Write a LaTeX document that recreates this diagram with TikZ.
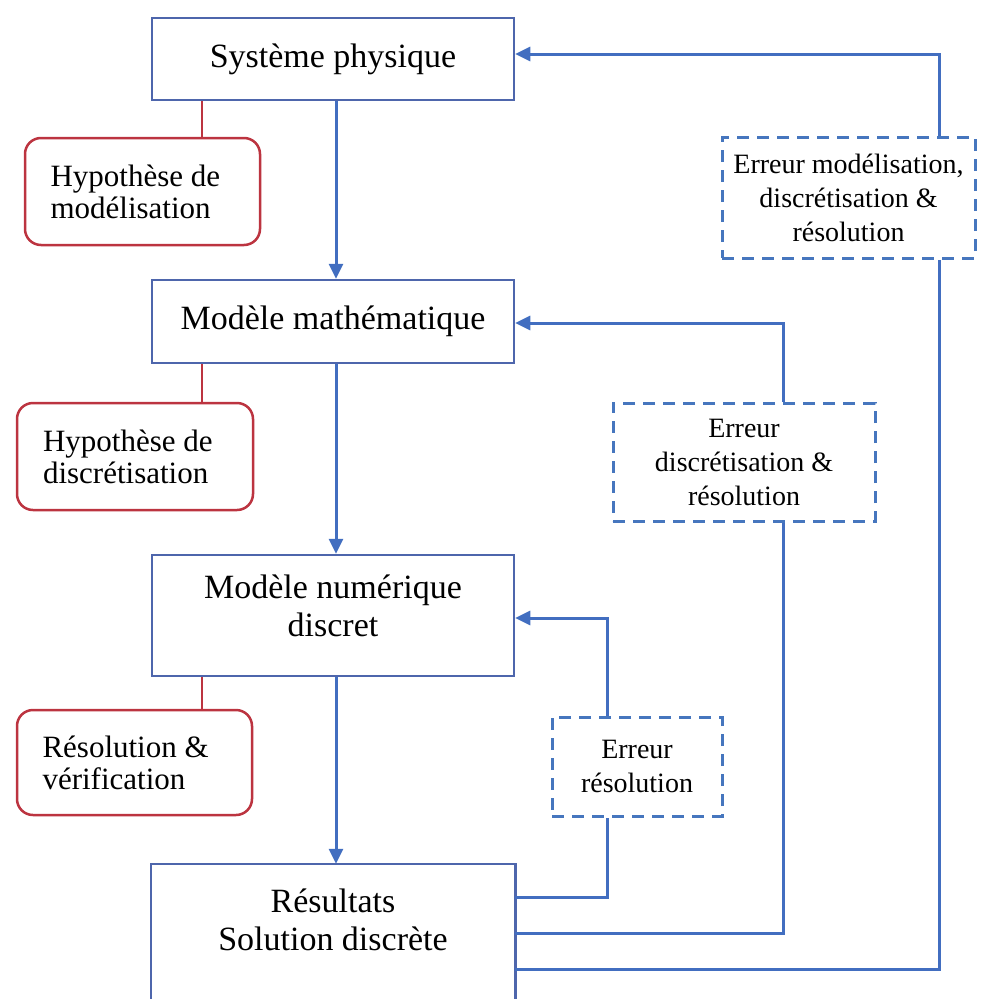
\documentclass[tikz,border=0pt]{standalone}
\usepackage{fontspec}
\setmainfont{Liberation Serif}
\usetikzlibrary{arrows.meta}
\definecolor{boxblue}{RGB}{78,102,172}
\definecolor{lineblue}{RGB}{66,110,192}
\definecolor{dashblue}{RGB}{70,118,190}
\definecolor{redc}{RGB}{188,52,64}
\tikzset{
  mainbox/.style={draw=boxblue, line width=2.5pt, fill=white, minimum width=362pt, align=center, inner sep=0pt, font=\fontsize{34}{38}\selectfont},
  hypbox/.style={draw=redc, line width=2.5pt, fill=white, rounded corners=16pt, align=flush left, inner sep=0pt, text width=184pt, font=\fontsize{31}{32}\selectfont},
  errbox/.style={draw=dashblue, line width=3pt, dash pattern=on 12pt off 8pt, fill=white, align=center, inner sep=0pt, font=\fontsize{28}{34}\selectfont},
  flow/.style={draw=lineblue, line width=3pt, -{Triangle[length=15pt,width=14pt]}},
  fline/.style={draw=lineblue, line width=3pt},
  redline/.style={draw=redc, line width=2.5pt},
}
\begin{document}
\begin{tikzpicture}[x=1pt,y=-1pt]
\useasboundingbox (0,0) rectangle (991,999);
\clip (0,0) rectangle (991,999);
% main boxes
\node[mainbox, minimum height=82pt] (sys) at (333,59) {Système physique};
\node[mainbox, minimum height=83pt] (mm) at (333,321.5) {Modèle mathématique};
\node[mainbox, minimum height=121pt] (mn) at (333,615.5) {Modèle numérique\\discret\rule[-20pt]{0pt}{20pt}};
\node[mainbox, draw=none, fill=none, minimum height=110pt] (res) at (333,920) {Résultats\\Solution discrète};
\draw[draw=boxblue, line width=2.5pt] ([yshift=-80pt]res.south west) -- (res.north west) -- (res.north east) -- ([yshift=-80pt]res.south east);
% hypothesis boxes
\node[hypbox, minimum width=235pt, minimum height=107pt] (h1) at (142.5,191.5) {Hypothèse de\\modélisation};
\node[hypbox, minimum width=236pt, minimum height=107pt] (h2) at (135,456.5) {Hypothèse de\\discrétisation};
\node[hypbox, minimum width=235pt, minimum height=105pt] (h3) at (134.5,762.5) {Résolution \&\\vérification};
% error boxes
\node[errbox, minimum width=253pt, minimum height=121pt] (e1) at (848.5,197.5) {Erreur modélisation,\\discrétisation \&\\résolution};
\node[errbox, minimum width=262pt, minimum height=118pt] (e2) at (744,462) {Erreur\\discrétisation \&\\résolution};
\node[errbox, minimum width=170pt, minimum height=99pt] (e3) at (637,766.5) {Erreur\\résolution};
% helper coordinates
\coordinate (rx) at (202,0);
\coordinate (mx) at (336,0);
\coordinate (c1) at (939,54);
\coordinate (c2) at (783,323);
\coordinate (c3) at (607,618);
\coordinate (b1) at (939,969);
\coordinate (b2) at (783,933);
\coordinate (b3) at (607,897);
% red connectors
\draw[redline] (sys.south -| rx) -- (h1.north -| rx);
\draw[redline] (mm.south -| rx) -- (h2.north -| rx);
\draw[redline] (mn.south -| rx) -- (h3.north -| rx);
% main flow
\draw[flow] (sys.south -| mx) -- (mm.north -| mx);
\draw[flow] (mm.south -| mx) -- (mn.north -| mx);
\draw[flow] (mn.south -| mx) -- (res.north -| mx);
% feedback loops
\draw[fline] (b1 -| res.east) -- (b1) -- (b1 |- e1.south);
\draw[flow] (c1 |- e1.north) -- (c1) -- (c1 -| sys.east);
\draw[fline] (b2 -| res.east) -- (b2) -- (b2 |- e2.south);
\draw[flow] (c2 |- e2.north) -- (c2) -- (c2 -| mm.east);
\draw[fline] (b3 -| res.east) -- (b3) -- (b3 |- e3.south);
\draw[flow] (c3 |- e3.north) -- (c3) -- (c3 -| mn.east);
\end{tikzpicture}
\end{document}
